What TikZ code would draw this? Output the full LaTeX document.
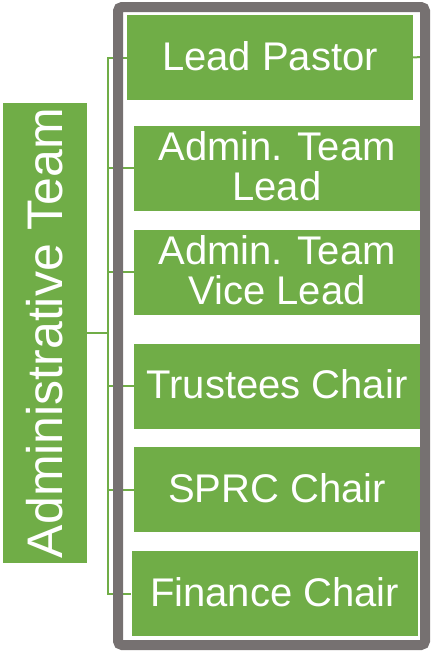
\documentclass[tikz,border=0pt]{standalone}
\usepackage{fontspec}
\setmainfont{Liberation Sans}
\usepackage{tikz}
\definecolor{teamgreen}{HTML}{70AD47}
\definecolor{framegray}{HTML}{767171}
\tikzstyle{role}=[fill=teamgreen,text=white,minimum width=286pt,minimum height=85pt,inner sep=0pt,align=center,font=\fontsize{40}{40}\selectfont]
\tikzstyle{team}=[fill=teamgreen,text=white,minimum width=460pt,minimum height=84pt,inner sep=0pt,rotate=90,font=\fontsize{50}{50}\selectfont]
\tikzstyle{link} = [draw,teamgreen,line width=2pt]
\tikzstyle{frame} = [draw,framegray,line width=10pt,rounded corners=4pt]

\begin{document}
\begin{tikzpicture}[x=1pt,y=-1pt]
	\useasboundingbox (0,0) rectangle (431,656);
	% the team box on the left
	\node[team] (admin) at (45,333) {Administrative Team};
	\coordinate (bus) at (108,333);
	\coordinate (tick) at (421,57);
	% draw the role boxes
	\foreach \pos/\name/\label in {{(270,57.5)/pastor/Lead Pastor},
	                               {(277,168)/lead/{Admin. Team\\Lead}},
	                               {(277,272)/vice/{Admin. Team\\Vice Lead}},
	                               {(277,386)/trustees/Trustees Chair},
	                               {(277,489.5)/sprc/SPRC Chair},
	                               {(274.5,593.5)/finance/Finance Chair}}
		\node[role,text depth=3pt] (\name) at \pos {\label};
	% connect the team box with every role
	\path[link] (admin) -- (bus);
	\foreach \dest in {pastor,lead,vice,trustees,sprc,finance}
		\path[link] (bus) |- (\dest.west);
	\path[link] (pastor.east) -- (tick);
	% grey frame round the roles
	\path[frame] (118,7) rectangle (425,645);
\end{tikzpicture}
\end{document}
